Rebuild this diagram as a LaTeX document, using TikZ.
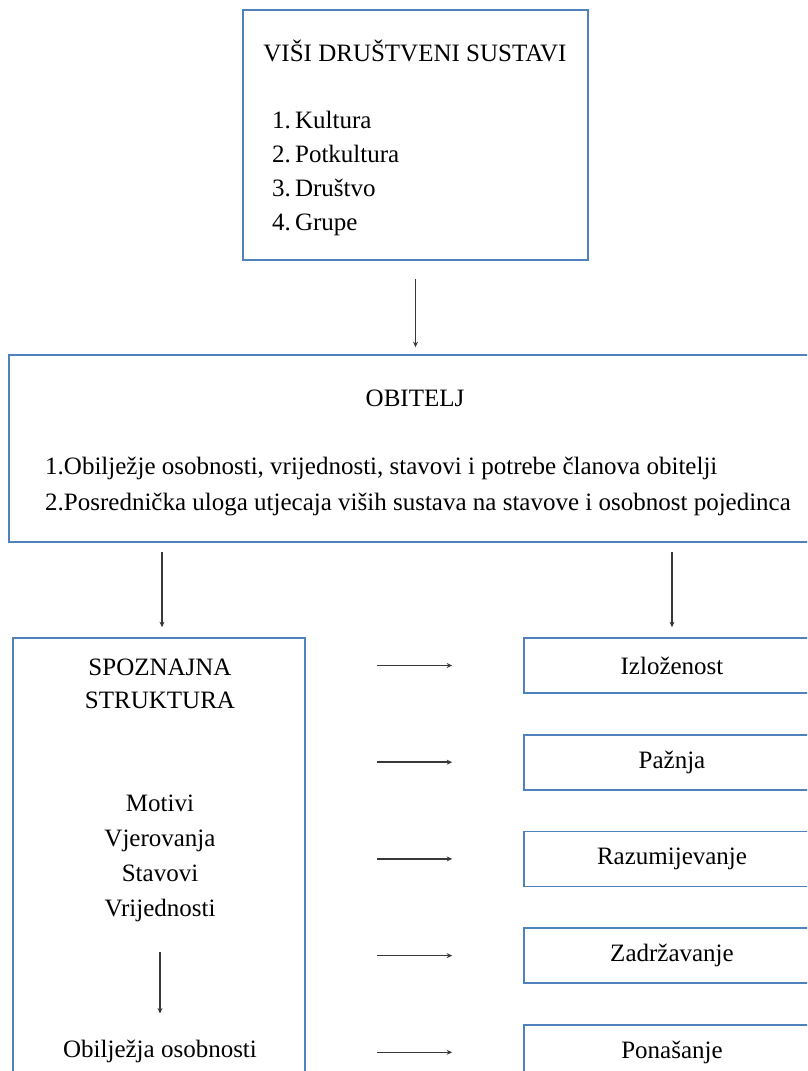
\documentclass[tikz,border=0pt]{standalone}
\usepackage{fontspec}
\setmainfont{Liberation Serif}
\usetikzlibrary{arrows.meta,positioning}
\definecolor{okvirplava}{HTML}{4F81BD}
\tikzset{okvir/.style={draw=okvirplava, line width=1.7pt, inner sep=0pt},
         strelica/.style={draw=black!78, line width=1.5pt, -{Stealth[length=5.5pt,width=5pt]}},
         tekst/.style={inner sep=0pt, align=center}}

\begin{document}
\begin{tikzpicture}[x=1pt, y=-1pt, font=\fontsize{25}{35}\selectfont]
			\useasboundingbox (0,0) rectangle (807,1071);
			\clip (0,0) rectangle (807,1071);
			%
			\node[okvir, minimum width=345pt, minimum height=250pt] (visi) at (415.5,135) {};
			\node[tekst] (visinaslov) at (415,51) {VIŠI DRUŠTVENI SUSTAVI};
			\node[tekst, align=left, anchor=west, font=\fontsize{25}{34}\selectfont] (visilista) at (272,173)
				{1.\,Kultura\\2.\,Potkultura\\3.\,Društvo\\4.\,Grupe};
			%
			\node[okvir, minimum width=811pt, minimum height=187pt] (obitelj) at (414.5,448.5) {};
			\node[tekst] (obiteljnaslov) at (415,398) {OBITELJ};
			\node[tekst, align=left, anchor=west, font=\fontsize{25}{36}\selectfont] (obiteljlista) at (45,486)
				{1.Obilježje osobnosti, vrijednosti, stavovi i potrebe članova obitelji\\
				 2.Posrednička uloga utjecaja viših sustava na stavove i osobnost pojedinca};
			%
			\node[okvir, minimum width=292pt, minimum height=472pt] (spoznajna) at (159,874) {};
			\node[tekst, font=\fontsize{25}{33}\selectfont] (spnaslov) at (160,684) {SPOZNAJNA\\STRUKTURA};
			\node[tekst] (motivi) at (160,858.5) {Motivi\\Vjerovanja\\Stavovi\\Vrijednosti};
			\node[tekst] (osobnosti) at (160,1051) {Obilježja osobnosti};
			%
			\node[okvir, minimum width=296pt, minimum height=55pt] (izlozenost) at (672,665.5) {Izloženost};
			\node[okvir, minimum width=296pt, minimum height=55pt, below=40pt of izlozenost] (paznja) {Pažnja};
			\node[okvir, minimum width=296pt, minimum height=55pt, below=40pt of paznja] (razumijevanje) {Razumijevanje};
			\node[okvir, minimum width=296pt, minimum height=55pt, below=40pt of razumijevanje] (zadrzavanje) {Zadržavanje};
			\node[okvir, minimum width=296pt, minimum height=55pt, below=40pt of zadrzavanje] (ponasanje) {Ponašanje};
			%
			\draw[strelica, shorten <=18pt, shorten >=7pt] (visi.south) -- (obitelj.north -| visi.south);
			\draw[strelica, shorten <=9pt, shorten >=10pt] ([xshift=3pt]obitelj.south -| spoznajna.north) -- ([xshift=3pt]spoznajna.north);
			\draw[strelica, shorten <=9pt, shorten >=10pt] (obitelj.south -| izlozenost.north) -- (izlozenost.north);
			\draw[strelica, shorten <=30pt, shorten >=26pt] (motivi.south) -- (osobnosti.north);
			\foreach \cilj in {izlozenost,paznja,razumijevanje,zadrzavanje,ponasanje}
				\draw[strelica, shorten <=71pt, shorten >=71pt] (\cilj.west -| spoznajna.east) -- (\cilj.west);
		\end{tikzpicture}
\end{document}
